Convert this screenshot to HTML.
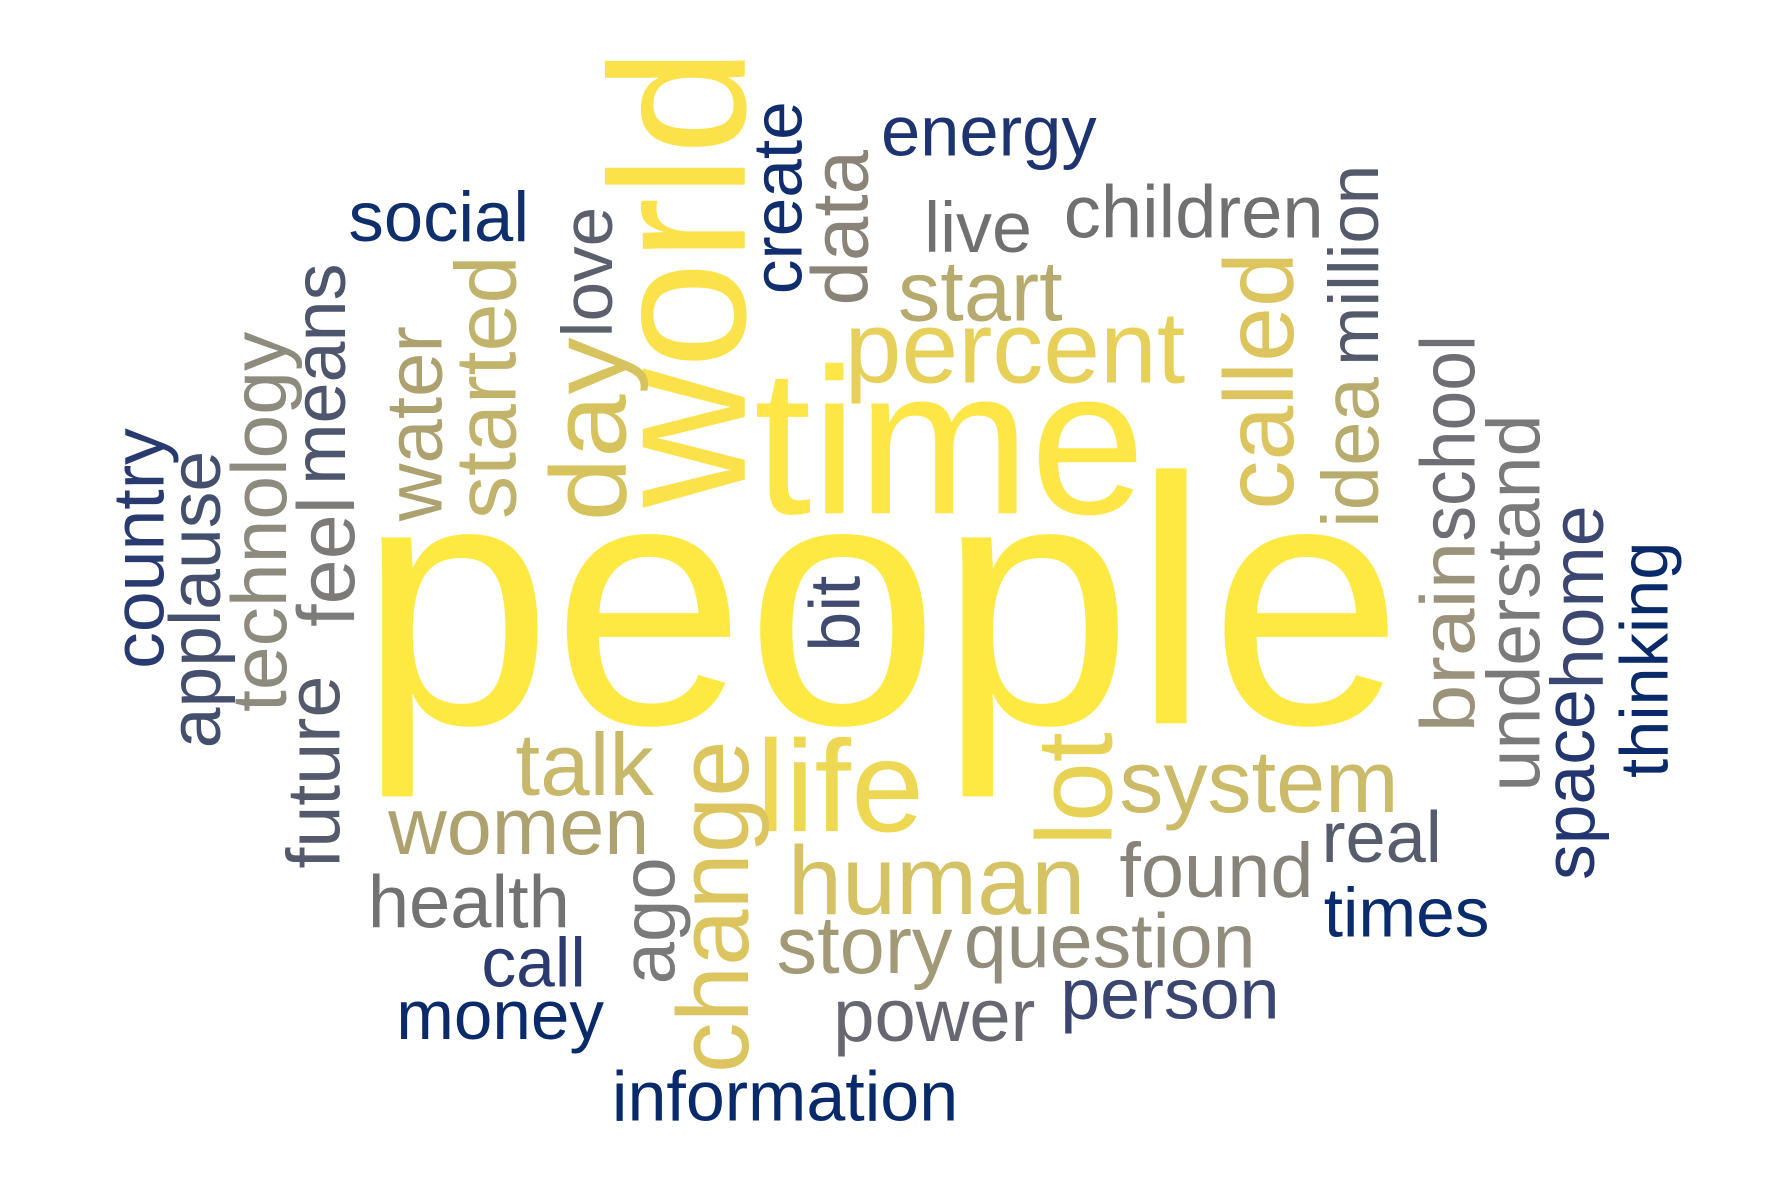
<!DOCTYPE html>
<html><head><meta charset="utf-8"><style>
html,body{margin:0;padding:0;background:#fff;}
svg{display:block;}
text{font-family:"Liberation Sans",Arial,sans-serif;}
</style></head><body>
<svg width="1771" height="1181" viewBox="0 0 1560 1040" xmlns="http://www.w3.org/2000/svg">
<rect width="1560" height="1040" fill="#fff"/>
<g transform="translate(-6,-3)">
<g id="h"></g>
<g id="v"></g>
</g>
</svg>
<script>
// horizontal words: [word, x, baseline, size, width, color]
const hWords = [
["people",322,640,310,920,"#fee942"],
["time",670,455,183,345,"#fde645"],
["percent",750,340,90,300,"#e6d05a"],
["life",672,735,115,148,"#eed853"],
["human",700,808,86,262,"#d4c264"],
["system",992,718,78,246,"#cbba68"],
["talk",460,703,78,122,"#c8b86a"],
["women",348,755,71,230,"#aea170"],
["start",797,285,75,145,"#b6aa6f"],
["live",820,225,63,95,"#707072"],
["children",943,212,65,229,"#707072"],
["energy",782,140,62,190,"#1e3470"],
["social",313,215,62,159,"#0e2e6c"],
["found",992,793,68,171,"#888379"],
["real",1170,762,64,106,"#575c6c"],
["times",1172,828,61,146,"#0b2c6c"],
["health",330,820,65,178,"#727272"],
["call",430,872,61,92,"#2b3b70"],
["money",355,918,61,183,"#0a2a6a"],
["story",690,860,72,155,"#a29a77"],
["question",855,855,68,257,"#918c7b"],
["person",940,900,63,193,"#3a4670"],
["power",740,920,65,178,"#676771"],
["information",545,990,62,305,"#08296a"]
];
// vertical words (rotated -90): [word, baseline-x, bottom-y, size, length, color]
const vWords = [
["world",662,450,170,405,"#fbe24a"],
["day",557,462,95,162,"#d7c35e"],
["love",545,300,63,115,"#5c5f6c"],
["started",460,460,76,232,"#c2b36c"],
["water",395,462,70,172,"#ada170"],
["means",310,430,65,195,"#4e566e"],
["feel",318,555,71,115,"#7c7b7a"],
["technology",258,630,69,335,"#8d8a7e"],
["applause",200,662,64,262,"#444f6e"],
["country",150,592,64,212,"#283a70"],
["future",305,768,66,170,"#545a6c"],
["create",712,262,61,170,"#102e6d"],
["data",770,272,70,137,"#8a8478"],
["bit",763,577,63,67,"#404b6f"],
["ago",600,870,67,112,"#7a7a7a"],
["change",665,948,89,293,"#dcc55f"],
["lot",985,748,95,100,"#e8d256"],
["called",1145,452,87,227,"#dcc55f"],
["idea",1220,468,70,133,"#b8ab6e"],
["million",1220,325,62,177,"#545a6c"],
["brain",1305,648,68,168,"#9a927a"],
["school",1305,480,68,182,"#6e6e74"],
["understand",1362,700,66,332,"#7a7a7a"],
["space",1410,778,63,168,"#233670"],
["home",1418,610,65,162,"#3b4770"],
["thinking",1475,688,60,208,"#0a2a6a"]
];
const NS="http://www.w3.org/2000/svg";
const gh=document.getElementById('h'), gv=document.getElementById('v');
hWords.forEach(w=>{
  const t=document.createElementNS(NS,'text');
  
  
  t.setAttribute('x',w[1]);t.setAttribute('y',w[2]);
  t.setAttribute('font-size',w[3]);t.setAttribute('fill',w[5]);
  t.setAttribute('textLength',w[4]);t.setAttribute('lengthAdjust','spacingAndGlyphs');
  t.textContent=w[0];gh.appendChild(t);
});
vWords.forEach(w=>{
  const t=document.createElementNS(NS,'text');
  
  
  t.setAttribute('x',0);t.setAttribute('y',0);
  t.setAttribute('transform','translate('+w[1]+','+w[2]+') rotate(-90)');
  t.setAttribute('font-size',w[3]);t.setAttribute('fill',w[5]);
  t.setAttribute('textLength',w[4]);t.setAttribute('lengthAdjust','spacingAndGlyphs');
  t.textContent=w[0];gv.appendChild(t);
});
</script>
</body></html>
